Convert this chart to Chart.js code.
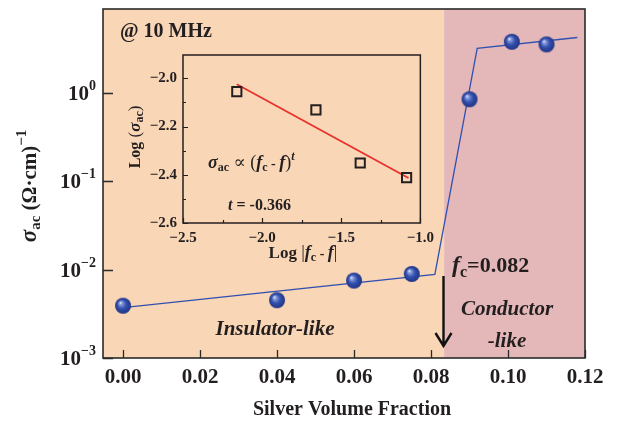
<!DOCTYPE html>
<html>
<head>
<meta charset="utf-8">
<script src="https://cdn.jsdelivr.net/npm/chart.js@4.4.1/dist/chart.umd.min.js"></script>
<style>
  body { margin: 0; background: #fff; }
  #wrap { position: relative; width: 619px; height: 421px; }
  canvas { position: absolute; }
</style>
</head>
<body>
<div id="wrap">
  <canvas id="main" width="619" height="421" style="left:0;top:0"></canvas>
  <canvas id="inset" width="320" height="235" style="left:120px;top:40px"></canvas>
</div>
<script>
// main panel data
const fraction = [0.00, 0.04, 0.06, 0.075, 0.09, 0.101, 0.11];
const sigma = [0.0039, 0.0045, 0.0075, 0.0089, 0.84, 3.75, 3.5];
const fitFraction = [0.0, 0.081, 0.092, 0.118];
const fitSigma = [0.0037, 0.0088, 3.16, 4.19];
const xTicks = [0, 0.02, 0.04, 0.06, 0.08, 0.10, 0.12];
const yTicks = [1e-3, 1e-2, 1e-1, 1];
const yTickExp = ["−3", "−2", "−1", "0"];
const boundary = 0.0834;

// inset data
const insetLogDf = [-2.16, -1.66, -1.38, -1.087];
const insetLogSigma = [-2.055, -2.131, -2.351, -2.412];
const insetFitX = [-2.16, -1.075];
const insetFitY = [-2.024, -2.413];
const insetXMajor = [-2.5, -2.0, -1.5, -1.0];
const insetXMinor = [-2.25, -1.75, -1.25];
const insetYMajor = [-2.6, -2.4, -2.2, -2.0];
const insetYMinor = [-2.5, -2.3, -2.1];

const SERIF = '"Liberation Serif", "DejaVu Serif", serif';
const f = (style, size) => style + ' ' + size + 'px ' + SERIF;

function pts(xs, ys) { return xs.map((x, i) => ({ x: x, y: ys[i] })); }

function sphere(r) {
  const c = document.createElement('canvas');
  c.width = c.height = 2 * r + 2;
  const g = c.getContext('2d');
  const cx = r + 1, cy = r + 1;
  const grad = g.createRadialGradient(cx - r * 0.35, cy - r * 0.4, 0, cx, cy, r);
  grad.addColorStop(0, '#ffffff');
  grad.addColorStop(0.18, '#8c9fe0');
  grad.addColorStop(0.55, '#3451ad');
  grad.addColorStop(1, '#1f3384');
  g.fillStyle = grad;
  g.beginPath(); g.arc(cx, cy, r, 0, Math.PI * 2); g.fill();
  return c;
}

function runs(ctx, parts, x, y, align) {
  let w = 0;
  parts.forEach(p => { ctx.font = p.f; p.w = ctx.measureText(p.t).width; w += p.w; });
  let cx = align === 'center' ? x - w / 2 : (align === 'right' ? x - w : x);
  ctx.textAlign = 'left';
  ctx.textBaseline = 'alphabetic';
  parts.forEach(p => { ctx.font = p.f; ctx.fillText(p.t, cx, y + (p.dy || 0)); cx += p.w; });
}

function inwardTicks(ctx, chart, xs, ys, len) {
  const a = chart.chartArea, sx = chart.scales.x, sy = chart.scales.y;
  ctx.beginPath();
  xs.forEach(v => { const px = Math.round(sx.getPixelForValue(v)) + 0.5; ctx.moveTo(px, a.bottom); ctx.lineTo(px, a.bottom - len); });
  ys.forEach(v => { const py = Math.round(sy.getPixelForValue(v)) + 0.5; ctx.moveTo(a.left, py); ctx.lineTo(a.left + len, py); });
  ctx.stroke();
}

const mainPlugin = {
  id: 'mainDecor',
  beforeDraw(chart) {
    const ctx = chart.ctx, a = chart.chartArea;
    const bx = chart.scales.x.getPixelForValue(boundary);
    ctx.save();
    ctx.fillStyle = '#ffffff';
    ctx.fillRect(0, 0, chart.width, chart.height);
    ctx.fillStyle = '#f9d6b6';
    ctx.fillRect(a.left, a.top, bx - a.left, a.bottom - a.top);
    ctx.fillStyle = '#e4b8b8';
    ctx.fillRect(bx, a.top, a.right - bx, a.bottom - a.top);
    ctx.restore();
  },
  afterDraw(chart) {
    const ctx = chart.ctx, a = chart.chartArea, sx = chart.scales.x, sy = chart.scales.y;
    ctx.save();
    ctx.strokeStyle = '#2a2a2a';
    ctx.lineWidth = 1.6;
    ctx.strokeRect(a.left, a.top, a.right - a.left, a.bottom - a.top);
    ctx.lineWidth = 1.3;
    inwardTicks(ctx, chart, xTicks, [], 8);
    inwardTicks(ctx, chart, [], yTicks, 10);

    ctx.fillStyle = '#231f20';
    // y tick labels 10^n
    yTicks.forEach((v, i) => {
      const py = sy.getPixelForValue(v);
      runs(ctx, [
        { t: '10', f: f('bold', 21) },
        { t: yTickExp[i], f: f('bold', 14), dy: -10 }
      ], 96, py + 7, 'right');
    });

    // y title
    ctx.save();
    ctx.translate(29, 186);
    ctx.rotate(-Math.PI / 2);
    runs(ctx, [
      { t: 'σ', f: f('italic bold', 23) },
      { t: 'ac', f: f('bold', 15), dy: 4 },
      { t: ' (Ω·cm)', f: f('bold', 21) },
      { t: '−1', f: f('bold', 15), dy: -10 }
    ], 0, 7, 'center');
    ctx.restore();

    // x title
    runs(ctx, [{ t: 'Silver Volume Fraction', f: f('bold', 20) }], 352, 415, 'center');

    // annotations
    runs(ctx, [{ t: '@ 10 MHz', f: f('bold', 20) }], 120, 37, 'left');
    runs(ctx, [{ t: 'Insulator-like', f: f('italic bold', 21) }], 275, 335, 'center');
    runs(ctx, [
      { t: 'f', f: f('italic bold', 24) },
      { t: 'c', f: f('bold', 16), dy: 5 },
      { t: '=0.082', f: f('bold', 22) }
    ], 452, 272, 'left');
    runs(ctx, [{ t: 'Conductor', f: f('italic bold', 21) }], 507, 315, 'center');
    runs(ctx, [{ t: '-like', f: f('italic bold', 21) }], 507, 347, 'center');

    // arrow at the boundary
    const ax = Math.round(sx.getPixelForValue(0.0832)) + 0.5;
    ctx.strokeStyle = '#111';
    ctx.lineWidth = 2.4;
    ctx.beginPath();
    ctx.moveTo(ax, 276); ctx.lineTo(ax, 346);
    ctx.moveTo(ax - 8, 333); ctx.lineTo(ax, 346); ctx.lineTo(ax + 8, 333);
    ctx.stroke();
    ctx.restore();
  }
};

new Chart(document.getElementById('main'), {
  type: 'scatter',
  data: {
    datasets: [
      {
        data: pts(fraction, sigma),
        pointStyle: sphere(8),
        pointRadius: 8,
        showLine: false
      },
      {
        data: pts(fitFraction, fitSigma),
        showLine: true,
        borderColor: '#3150b0',
        borderWidth: 1.3,
        pointRadius: 0,
        tension: 0
      }
    ]
  },
  options: {
    responsive: false,
    animation: false,
    layout: { padding: { top: 4, right: 34, left: 0, bottom: 0 } },
    plugins: { legend: { display: false }, tooltip: { enabled: false } },
    scales: {
      x: {
        type: 'linear',
        min: -0.0052,
        max: 0.12,
        grid: { display: false, drawTicks: false },
        border: { display: false },
        afterBuildTicks: s => { s.ticks = xTicks.map(v => ({ value: v })); },
        afterFit: s => { s.height = 63; },
        ticks: {
          padding: 7,
          color: '#231f20',
          font: { family: SERIF, size: 21, weight: 'bold' },
          callback: v => v.toFixed(2)
        }
      },
      y: {
        type: 'logarithmic',
        min: 1e-3,
        max: 8.8,
        grid: { display: false, drawTicks: false },
        border: { display: false },
        afterBuildTicks: s => { s.ticks = yTicks.map(v => ({ value: v })); },
        afterFit: s => { s.width = 103; },
        ticks: { display: false }
      }
    }
  },
  plugins: [mainPlugin]
});

const insetPlugin = {
  id: 'insetDecor',
  afterDraw(chart) {
    const ctx = chart.ctx, a = chart.chartArea;
    ctx.save();
    ctx.strokeStyle = '#231f20';
    ctx.lineWidth = 1.5;
    ctx.strokeRect(a.left, a.top, a.right - a.left, a.bottom - a.top);
    ctx.lineWidth = 1.2;
    inwardTicks(ctx, chart, insetXMajor, insetYMajor, 5);
    inwardTicks(ctx, chart, insetXMinor, insetYMinor, 3);

    ctx.fillStyle = '#231f20';
    const ox = 120, oy = 40;
    // y title
    ctx.save();
    ctx.translate(135 - ox, 137 - oy);
    ctx.rotate(-Math.PI / 2);
    runs(ctx, [
      { t: 'Log', f: f('bold', 16) },
      { t: ' (', f: f('', 17) },
      { t: 'σ', f: f('italic bold', 17) },
      { t: 'ac', f: f('bold', 12), dy: 3 },
      { t: ')', f: f('', 17) }
    ], 0, 5, 'center');
    ctx.restore();
    // x title
    runs(ctx, [
      { t: 'Log ', f: f('bold', 17) },
      { t: '|', f: f('', 18) },
      { t: 'f', f: f('italic bold', 18) },
      { t: 'c', f: f('bold', 12), dy: 3 },
      { t: ' - ', f: f('bold', 14) },
      { t: 'f', f: f('italic bold', 18) },
      { t: '|', f: f('', 18) }
    ], 303 - ox, 258 - oy, 'center');
    // formula
    runs(ctx, [
      { t: 'σ', f: f('italic bold', 18) },
      { t: 'ac', f: f('bold', 12), dy: 3 },
      { t: ' ∝ (', f: f('', 18) },
      { t: 'f', f: f('italic bold', 18) },
      { t: 'c', f: f('bold', 12), dy: 3 },
      { t: ' - ', f: f('bold', 14) },
      { t: 'f', f: f('italic bold', 18) },
      { t: ')', f: f('', 18) },
      { t: 't', f: f('italic bold', 12), dy: -8 }
    ], 208 - ox, 168 - oy, 'left');
    runs(ctx, [
      { t: 't', f: f('italic bold', 16) },
      { t: ' = -0.366', f: f('bold', 16) }
    ], 228 - ox, 210 - oy, 'left');
    ctx.restore();
  }
};

const insetTickFmt = v => v.toFixed(1).replace('-', '−');

new Chart(document.getElementById('inset'), {
  type: 'scatter',
  data: {
    datasets: [
      {
        data: pts(insetLogDf, insetLogSigma),
        pointStyle: 'rect',
        pointRadius: 6.5,
        backgroundColor: 'rgba(0,0,0,0)',
        borderColor: '#231f20',
        borderWidth: 2,
        showLine: false
      },
      {
        data: pts(insetFitX, insetFitY),
        showLine: true,
        borderColor: '#e8312b',
        borderWidth: 1.8,
        pointRadius: 0
      }
    ]
  },
  options: {
    responsive: false,
    animation: false,
    layout: { padding: { top: 10, right: 16, left: 0, bottom: 0 } },
    plugins: { legend: { display: false }, tooltip: { enabled: false } },
    scales: {
      x: {
        type: 'linear',
        min: -2.5,
        max: -1.0,
        grid: { display: false, drawTicks: false },
        border: { display: false },
        afterBuildTicks: s => { s.ticks = insetXMajor.map(v => ({ value: v })); },
        afterFit: s => { s.height = 52; },
        ticks: {
          padding: 6,
          color: '#231f20',
          font: { family: SERIF, size: 15, weight: '600' },
          callback: insetTickFmt
        }
      },
      y: {
        type: 'linear',
        min: -2.6,
        max: -1.903,
        grid: { display: false, drawTicks: false },
        border: { display: false },
        afterBuildTicks: s => { s.ticks = insetYMajor.map(v => ({ value: v })); },
        afterFit: s => { s.width = 63; },
        ticks: {
          padding: 6,
          color: '#231f20',
          font: { family: SERIF, size: 15, weight: '600' },
          callback: insetTickFmt
        }
      }
    }
  },
  plugins: [insetPlugin]
});
</script>
</body>
</html>
